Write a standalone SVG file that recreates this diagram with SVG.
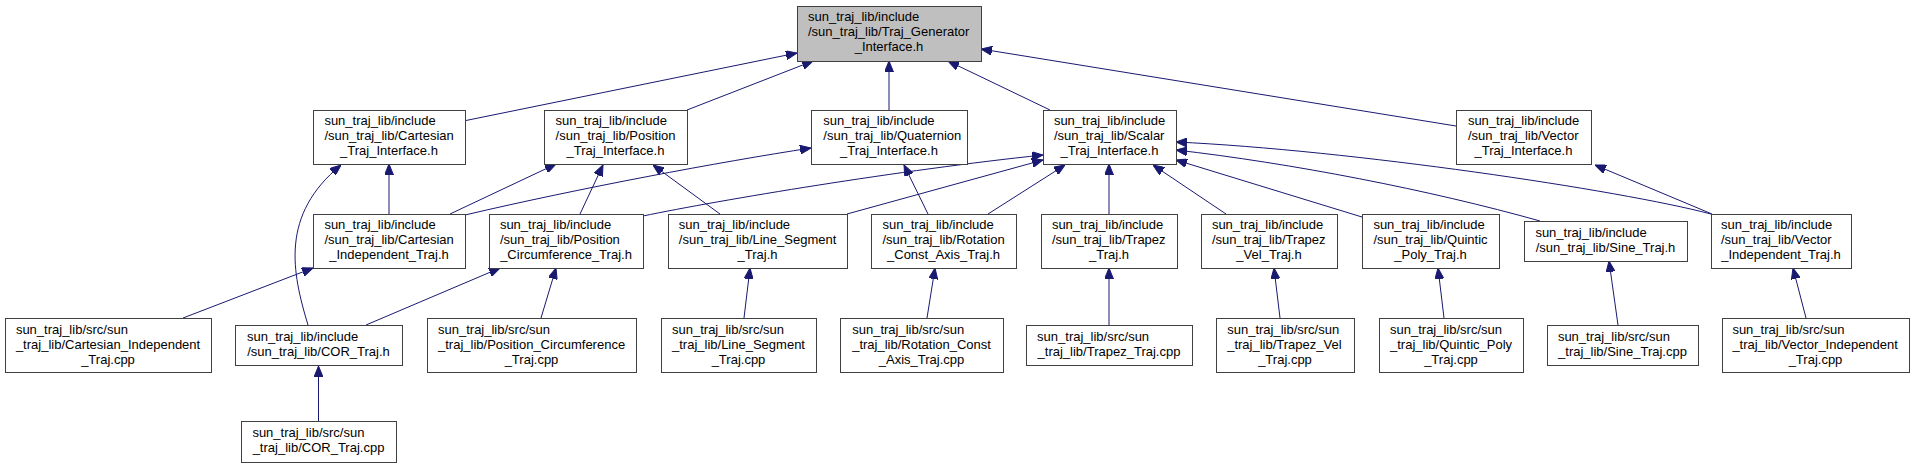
<svg xmlns="http://www.w3.org/2000/svg" width="1915" height="468" viewBox="0 0 1915 468">
<style>
.n rect{fill:#fff;stroke:#404040;stroke-width:1}
#n_tg rect{fill:#bfbfbf}
text{font-family:"Liberation Sans",Arial,sans-serif;font-size:13px;fill:#000}
.c{text-anchor:middle}
#edges path{fill:none;stroke:#191970;stroke-width:1;marker-end:url(#arr)}
</style>
<defs>
<marker id="arr" viewBox="0 0 11 9" refX="11" refY="4.5" markerWidth="11" markerHeight="9" markerUnits="userSpaceOnUse" orient="auto">
<path d="M0,0 L11,4.5 L0,9 z" fill="#191970" stroke="#191970" stroke-width="1"/>
</marker>
</defs>
<rect width="1915" height="468" fill="#fff"/>
<g id="edges">
<path d="M465,120.7 L797,53"/>
<path d="M687,110 L813,61"/>
<path d="M889,110 L889,61"/>
<path d="M1050,110 L948,61"/>
<path d="M1456,126 L981,49"/>
<path d="M389,214 L389,164"/>
<path d="M450,214 L556,164"/>
<path d="M465,215 C580,188 720,162 811,148"/>
<path d="M643,216 C720,200 900,170 1043,155"/>
<path d="M308,325 C292,272 280,215 341,165"/>
<path d="M580,214 L603,165"/>
<path d="M720,214 L653,165"/>
<path d="M847,214 L1043,160"/>
<path d="M928,214 L904,165"/>
<path d="M988,214 L1065,165"/>
<path d="M1109,214 L1109,164"/>
<path d="M1226,214 L1153,165"/>
<path d="M1362,217 L1176,160"/>
<path d="M1540,221 C1430,190 1290,163 1176,150"/>
<path d="M1711,214 C1620,190 1350,150 1176,142"/>
<path d="M1712,214 L1595,165"/>
<path d="M541,318 L556,268"/>
<path d="M366,325 L500,268"/>
<path d="M744,318 L750,268"/>
<path d="M927,318 L935,268"/>
<path d="M1109,325 L1109,268"/>
<path d="M1280,318 L1274,268"/>
<path d="M1444,318 L1438,268"/>
<path d="M1618,325 L1609,261"/>
<path d="M1806,318 L1793,268"/>
<path d="M318.5,421 L318.5,366"/>
<path d="M183,318 L313,268"/>
</g>
<g id="n_tg" class="n"><rect x="797.5" y="6.5" width="184" height="55"/><text x="808" y="21">sun_traj_lib/include</text><text x="808" y="36">/sun_traj_lib/Traj_Generator</text><text class="c" x="889" y="51">_Interface.h</text></g>
<g id="n_cart_ti" class="n"><rect x="313.5" y="110.5" width="152" height="54"/><text x="324.4" y="125">sun_traj_lib/include</text><text x="324.4" y="140">/sun_traj_lib/Cartesian</text><text class="c" x="389" y="155">_Traj_Interface.h</text></g>
<g id="n_pos_ti" class="n"><rect x="544.5" y="110.5" width="143" height="54"/><text x="555.6" y="125">sun_traj_lib/include</text><text x="555.6" y="140">/sun_traj_lib/Position</text><text class="c" x="615.5" y="155">_Traj_Interface.h</text></g>
<g id="n_quat_ti" class="n"><rect x="811.5" y="110.5" width="156" height="54"/><text x="823.3" y="125">sun_traj_lib/include</text><text x="823.3" y="140">/sun_traj_lib/Quaternion</text><text class="c" x="889" y="155">_Traj_Interface.h</text></g>
<g id="n_scal_ti" class="n"><rect x="1043.5" y="110.5" width="133" height="54"/><text x="1053.9" y="125">sun_traj_lib/include</text><text x="1053.9" y="140">/sun_traj_lib/Scalar</text><text class="c" x="1109.5" y="155">_Traj_Interface.h</text></g>
<g id="n_vec_ti" class="n"><rect x="1456.5" y="110.5" width="135" height="54"/><text x="1467.9" y="125">sun_traj_lib/include</text><text x="1467.9" y="140">/sun_traj_lib/Vector</text><text class="c" x="1523.5" y="155">_Traj_Interface.h</text></g>
<g id="n_cart_ind_h" class="n"><rect x="313.5" y="214.5" width="152" height="54"/><text x="324.4" y="229">sun_traj_lib/include</text><text x="324.4" y="244">/sun_traj_lib/Cartesian</text><text class="c" x="389" y="259">_Independent_Traj.h</text></g>
<g id="n_pos_circ_h" class="n"><rect x="489.5" y="214.5" width="154" height="54"/><text x="499.9" y="229">sun_traj_lib/include</text><text x="499.9" y="244">/sun_traj_lib/Position</text><text class="c" x="566" y="259">_Circumference_Traj.h</text></g>
<g id="n_line_seg_h" class="n"><rect x="668.5" y="214.5" width="179" height="54"/><text x="678.8" y="229">sun_traj_lib/include</text><text x="678.8" y="244">/sun_traj_lib/Line_Segment</text><text class="c" x="757.5" y="259">_Traj.h</text></g>
<g id="n_rot_h" class="n"><rect x="871.5" y="214.5" width="145" height="54"/><text x="882.5" y="229">sun_traj_lib/include</text><text x="882.5" y="244">/sun_traj_lib/Rotation</text><text class="c" x="943.5" y="259">_Const_Axis_Traj.h</text></g>
<g id="n_trap_h" class="n"><rect x="1041.5" y="214.5" width="136" height="54"/><text x="1051.9" y="229">sun_traj_lib/include</text><text x="1051.9" y="244">/sun_traj_lib/Trapez</text><text class="c" x="1109" y="259">_Traj.h</text></g>
<g id="n_trapvel_h" class="n"><rect x="1201.5" y="214.5" width="136" height="54"/><text x="1211.9" y="229">sun_traj_lib/include</text><text x="1211.9" y="244">/sun_traj_lib/Trapez</text><text class="c" x="1269" y="259">_Vel_Traj.h</text></g>
<g id="n_quin_h" class="n"><rect x="1362.5" y="214.5" width="137" height="54"/><text x="1373.4" y="229">sun_traj_lib/include</text><text x="1373.4" y="244">/sun_traj_lib/Quintic</text><text class="c" x="1430.5" y="259">_Poly_Traj.h</text></g>
<g id="n_sine_h" class="n"><rect x="1524.5" y="221.5" width="163" height="40"/><text x="1535.4" y="236.5">sun_traj_lib/include</text><text class="c" x="1605.5" y="251.5">/sun_traj_lib/Sine_Traj.h</text></g>
<g id="n_vec_ind_h" class="n"><rect x="1711.5" y="214.5" width="140" height="54"/><text x="1721" y="229">sun_traj_lib/include</text><text x="1721" y="244">/sun_traj_lib/Vector</text><text class="c" x="1781" y="259">_Independent_Traj.h</text></g>
<g id="n_cart_ind_cpp" class="n"><rect x="5.5" y="318.5" width="206" height="54"/><text x="15.9" y="333.5">sun_traj_lib/src/sun</text><text x="15.9" y="348.5">_traj_lib/Cartesian_Independent</text><text class="c" x="108" y="363.5">_Traj.cpp</text></g>
<g id="n_cor_h" class="n"><rect x="235.5" y="325.5" width="167" height="40"/><text x="247" y="341">sun_traj_lib/include</text><text class="c" x="318.5" y="356">/sun_traj_lib/COR_Traj.h</text></g>
<g id="n_pos_circ_cpp" class="n"><rect x="427.5" y="318.5" width="209" height="54"/><text x="438" y="333.5">sun_traj_lib/src/sun</text><text x="438" y="348.5">_traj_lib/Position_Circumference</text><text class="c" x="531.5" y="363.5">_Traj.cpp</text></g>
<g id="n_line_seg_cpp" class="n"><rect x="661.5" y="318.5" width="155" height="54"/><text x="672" y="333.5">sun_traj_lib/src/sun</text><text x="672" y="348.5">_traj_lib/Line_Segment</text><text class="c" x="738.5" y="363.5">_Traj.cpp</text></g>
<g id="n_rot_cpp" class="n"><rect x="840.5" y="318.5" width="163" height="54"/><text x="852.2" y="333.5">sun_traj_lib/src/sun</text><text x="852.2" y="348.5">_traj_lib/Rotation_Const</text><text class="c" x="921.5" y="363.5">_Axis_Traj.cpp</text></g>
<g id="n_trap_cpp" class="n"><rect x="1026.5" y="325.5" width="166" height="40"/><text x="1037.1" y="341">sun_traj_lib/src/sun</text><text class="c" x="1109" y="356">_traj_lib/Trapez_Traj.cpp</text></g>
<g id="n_trapvel_cpp" class="n"><rect x="1216.5" y="318.5" width="138" height="54"/><text x="1227.2" y="333.5">sun_traj_lib/src/sun</text><text x="1227.2" y="348.5">_traj_lib/Trapez_Vel</text><text class="c" x="1285" y="363.5">_Traj.cpp</text></g>
<g id="n_quin_cpp" class="n"><rect x="1379.5" y="318.5" width="144" height="54"/><text x="1390" y="333.5">sun_traj_lib/src/sun</text><text x="1390" y="348.5">_traj_lib/Quintic_Poly</text><text class="c" x="1451" y="363.5">_Traj.cpp</text></g>
<g id="n_sine_cpp" class="n"><rect x="1547.5" y="325.5" width="151" height="40"/><text x="1557.9" y="341">sun_traj_lib/src/sun</text><text class="c" x="1622.5" y="356">_traj_lib/Sine_Traj.cpp</text></g>
<g id="n_vec_ind_cpp" class="n"><rect x="1722.5" y="318.5" width="187" height="54"/><text x="1732.4" y="333.5">sun_traj_lib/src/sun</text><text x="1732.4" y="348.5">_traj_lib/Vector_Independent</text><text class="c" x="1815.5" y="363.5">_Traj.cpp</text></g>
<g id="n_cor_cpp" class="n"><rect x="241.5" y="421.5" width="155" height="41"/><text x="252.4" y="437">sun_traj_lib/src/sun</text><text class="c" x="318.5" y="452">_traj_lib/COR_Traj.cpp</text></g>
</svg>
